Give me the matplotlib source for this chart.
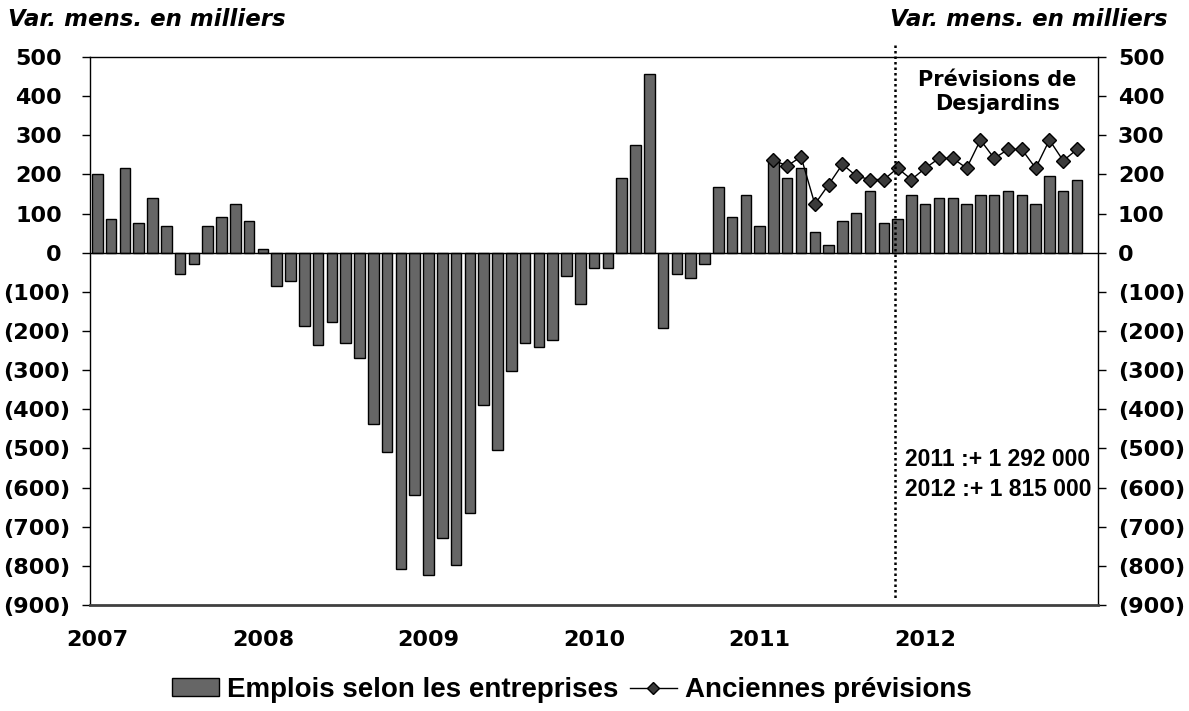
import matplotlib
matplotlib.use('Agg')
import matplotlib.pyplot as plt
import numpy as np
from matplotlib.lines import Line2D
from matplotlib.patches import Patch
from matplotlib.transforms import ScaledTranslation, blended_transform_factory

plt.rcParams['font.family'] = 'DejaVu Sans'
plt.rcParams['font.weight'] = 'bold'

# years on the x axis, one bar per month from Jan 2007 to Dec 2012
years = ['2007', '2008', '2009', '2010', '2011', '2012']
emplois = [201, 85, 217, 76, 139, 67, -54, -30, 67, 91, 125, 81,
           9, -86, -72, -188, -235, -177, -230, -269, -437, -509, -808, -620,
           -823, -730, -798, -664, -389, -505, -303, -230, -241, -223, -59, -131,
           -39, -39, 192, 274, 456, -193, -54, -64, -30, 168, 91, 148,
           67, 234, 192, 216, 52, 19, 81, 101, 158, 76, 86, 148,
           125, 139, 139, 125, 148, 148, 158, 148, 125, 196, 158, 187]
# old forecast, starts Feb 2011
prev_start = 49
anciennes = [236, 222, 245, 124, 174, 226, 196, 187, 187, 216, 187,
             216, 241, 241, 216, 288, 241, 264, 264, 216, 288, 235, 264]
y_ticks = list(range(-900, 501, 100))
bilan = ['2011 :+ 1 292 000', '2012 :+ 1 815 000']

W, H = 1189, 711
fig = plt.figure(figsize=(W / 100, H / 100), dpi=100)
ax = fig.add_axes([90 / W, 1 - 605 / H, 1008 / W, 548 / H])

x = np.arange(len(emplois))
xc = x + 0.38
ax.bar(x, emplois, width=0.76, align='edge', color='#666666',
       edgecolor='black', linewidth=1, zorder=2)
ax.plot(xc[prev_start:], anciennes, color='black', lw=1, marker='D', ms=7,
        mfc='#3a3a3a', mec='black', mew=1, zorder=4)
ax.axhline(0, color='black', lw=1, zorder=3)

# dotted separator for the forecast period
ax.plot([58.2, 58.2], [531, -887], color='black', lw=1.8,
        ls=(0, (1, 1.2)), clip_on=False, zorder=5)

ax.set_xlim(-0.15, 72.9)
ax.set_ylim(-900, 500)

ax.set_xticks(xc[::12], labels=years)
ax.tick_params(axis='x', length=0, pad=18, labelsize=16)

ylabels = [str(v) if v >= 0 else '(%d)' % -v for v in y_ticks]
ax.set_yticks(y_ticks, labels=ylabels)
ax.tick_params(axis='y', direction='out', length=5.8, width=1,
               left=True, right=True, labelleft=False, labelright=True,
               pad=8.6, labelsize=16)

# left labels drawn by hand: positive ones leave room for the ")"
trans = blended_transform_factory(ax.transAxes, ax.transData)
for v, lab in zip(y_ticks, ylabels):
    off = -28 if v >= 0 else -20
    ax.text(0, v, lab, size=16, ha='right', va='center_baseline', clip_on=False,
            transform=trans + ScaledTranslation(off / 100, 0, fig.dpi_scale_trans))

for s in ['left', 'right', 'top']:
    ax.spines[s].set_color('black')
    ax.spines[s].set_linewidth(1)
ax.spines['bottom'].set_color('#404040')
ax.spines['bottom'].set_linewidth(2)

fig.text(8 / W, 1 - 20 / H, 'Var. mens. en milliers', style='italic',
         size=16.5, ha='left', va='center')
fig.text(1168 / W, 1 - 20 / H, 'Var. mens. en milliers', style='italic',
         size=16.5, ha='right', va='center')

ax.text(65.6, 410, 'Prévisions de\nDesjardins', ha='center', va='center',
        size=15, linespacing=1.25)
ax.text(58.9, -529, bilan[0], ha='left', va='center', size=16.5,
        family='Liberation Sans')
ax.text(58.9, -606, bilan[1], ha='left', va='center', size=16.5,
        family='Liberation Sans')

handles = [Patch(facecolor='#666666', edgecolor='black', linewidth=1),
           Line2D([], [], color='black', lw=1, marker='D', ms=6,
                  mfc='#3a3a3a', mec='black')]
fig.legend(handles, ['Emplois selon les entreprises', 'Anciennes prévisions'],
           loc='center', bbox_to_anchor=(572 / W, 1 - 690 / H), ncol=2,
           frameon=False, prop={'family': 'Liberation Sans', 'weight': 'bold', 'size': 20},
           handlelength=1.7, handleheight=0.6, columnspacing=0.4,
           handletextpad=0.3)

fig.savefig('out.png', dpi=100)
